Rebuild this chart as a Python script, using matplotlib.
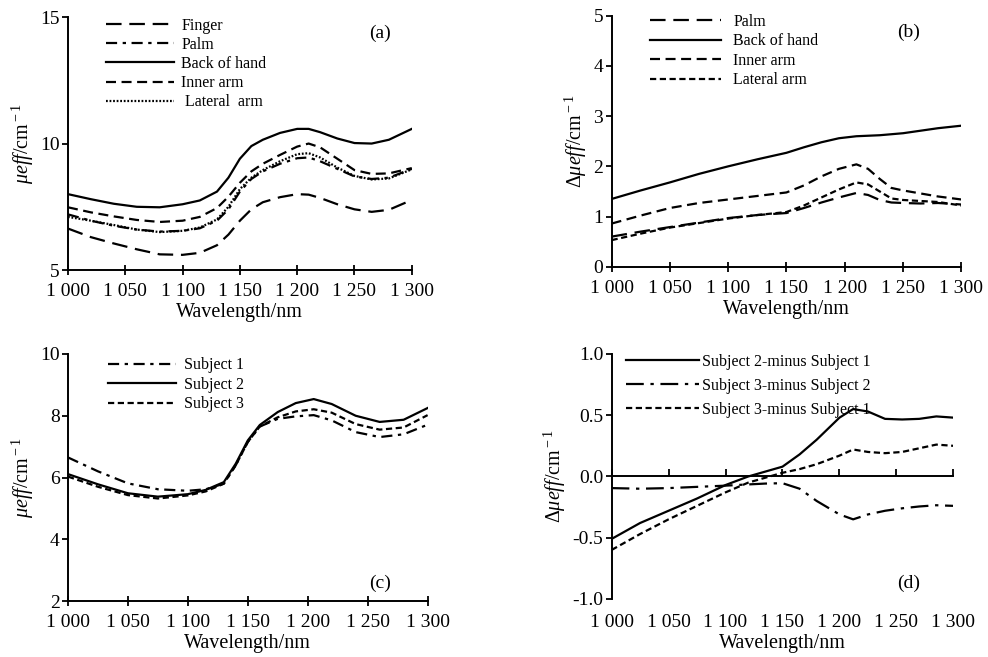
import numpy as np
import matplotlib
matplotlib.use("Agg")
import matplotlib.pyplot as plt

plt.rcParams['font.family'] = ['Liberation Serif', 'DejaVu Serif']
plt.rcParams['mathtext.fontset'] = 'custom'
plt.rcParams['mathtext.rm'] = 'Liberation Serif'
plt.rcParams['mathtext.it'] = 'Liberation Serif:italic'
plt.rcParams['axes.unicode_minus'] = False

# ---- data ----
xticks = [1000, 1050, 1100, 1150, 1200, 1250, 1300]
xtick_labels = ['1 000', '1 050', '1 100', '1 150', '1 200', '1 250', '1 300']

# (a) mu_eff of different skin sites
wl_a = [1000, 1020, 1040, 1060, 1080, 1100, 1115, 1130, 1140, 1150, 1160,
        1170, 1185, 1200, 1210, 1220, 1235, 1250, 1265, 1280, 1300]
finger = [6.64, 6.3, 6.05, 5.82, 5.62, 5.6, 5.68, 5.98, 6.4, 6.95, 7.4,
          7.68, 7.88, 8.0, 7.98, 7.85, 7.6, 7.4, 7.3, 7.38, 7.77]
palm_a = [7.2, 6.95, 6.75, 6.6, 6.52, 6.55, 6.65, 6.95, 7.4, 8.1, 8.6,
          8.9, 9.2, 9.42, 9.45, 9.3, 9.0, 8.7, 8.6, 8.65, 9.0]
back_a = [8.0, 7.8, 7.62, 7.5, 7.48, 7.6, 7.75, 8.1, 8.65, 9.4, 9.9,
          10.15, 10.42, 10.58, 10.58, 10.45, 10.2, 10.02, 10.0, 10.15, 10.58]
inner_a = [7.48, 7.28, 7.12, 6.98, 6.9, 6.95, 7.1, 7.45, 7.9, 8.45, 8.9,
           9.2, 9.55, 9.88, 10.0, 9.85, 9.4, 8.95, 8.8, 8.82, 9.03]
lateral_a = [7.1, 6.95, 6.78, 6.6, 6.5, 6.55, 6.68, 7.0, 7.5, 8.2, 8.65,
             8.95, 9.3, 9.58, 9.62, 9.45, 9.05, 8.72, 8.58, 8.62, 8.98]

# (b) difference to finger
wl_b = [1000, 1025, 1050, 1075, 1100, 1125, 1150, 1165, 1180, 1195, 1210,
        1220, 1230, 1240, 1250, 1265, 1280, 1300]
palm_b = [0.6, 0.7, 0.79, 0.88, 0.97, 1.03, 1.07, 1.17, 1.28, 1.38, 1.47,
          1.43, 1.33, 1.28, 1.27, 1.26, 1.27, 1.24]
back_b = [1.35, 1.52, 1.68, 1.85, 2.0, 2.14, 2.27, 2.38, 2.48, 2.56, 2.6,
          2.61, 2.62, 2.64, 2.66, 2.71, 2.76, 2.81]
inner_b = [0.86, 1.02, 1.17, 1.27, 1.34, 1.41, 1.48, 1.62, 1.8, 1.95, 2.04,
           1.95, 1.75, 1.57, 1.52, 1.46, 1.4, 1.34]
lateral_b = [0.53, 0.66, 0.78, 0.87, 0.96, 1.03, 1.09, 1.22, 1.38, 1.54, 1.68,
             1.64, 1.5, 1.36, 1.33, 1.31, 1.29, 1.22]

# (c) subjects
wl_c = [1000, 1025, 1050, 1075, 1100, 1115, 1130, 1140, 1150, 1160, 1175,
        1190, 1205, 1220, 1240, 1260, 1280, 1300]
subj1 = [6.65, 6.2, 5.81, 5.62, 5.57, 5.62, 5.8, 6.4, 7.15, 7.65, 7.9,
         7.98, 8.02, 7.85, 7.47, 7.31, 7.4, 7.71]
subj2 = [6.11, 5.78, 5.49, 5.38, 5.46, 5.6, 5.85, 6.45, 7.2, 7.7, 8.12,
         8.41, 8.54, 8.38, 8.0, 7.8, 7.87, 8.25]
subj3 = [6.03, 5.7, 5.43, 5.32, 5.42, 5.55, 5.8, 6.4, 7.15, 7.65, 7.95,
         8.14, 8.21, 8.1, 7.73, 7.55, 7.62, 8.02]

# (d) subject differences
wl_d = [1000, 1025, 1050, 1075, 1100, 1120, 1135, 1150, 1165, 1180, 1200,
        1212, 1225, 1240, 1255, 1270, 1285, 1300]
d21 = [-0.51, -0.38, -0.28, -0.18, -0.07, 0.0, 0.04, 0.08, 0.18, 0.3, 0.48,
       0.55, 0.53, 0.47, 0.465, 0.47, 0.49, 0.48]
d32 = [-0.095, -0.1, -0.095, -0.085, -0.075, -0.065, -0.058, -0.055, -0.1, -0.2, -0.31,
       -0.35, -0.31, -0.28, -0.26, -0.245, -0.235, -0.24]
d31 = [-0.6, -0.47, -0.35, -0.24, -0.13, -0.05, -0.01, 0.03, 0.06, 0.1, 0.17,
       0.22, 0.2, 0.19, 0.2, 0.23, 0.26, 0.25]

# ---- styles ----
LW = 1.6
long_dash = (0, (7, 3.5))
dash_dot = (0, (5, 2.5, 1.5, 2.5))
long_dash_dot = (0, (8, 3, 1.5, 3))
med_dash = (0, (4.5, 2.5))
short_dash = (0, (2.8, 1.6))
dotted = (0, (0.8, 0.8))

TICK_FS = 14
LAB_FS = 14.5
LEG_FS = 11.5
PANEL_FS = 14

fig = plt.figure(figsize=(9.88, 6.57), dpi=100)
ax_a = fig.add_axes([0.0688, 0.589, 0.348, 0.385])
ax_b = fig.add_axes([0.619, 0.594, 0.354, 0.382])
ax_c = fig.add_axes([0.0688, 0.0852, 0.364, 0.376])
ax_d = fig.add_axes([0.619, 0.0883, 0.346, 0.373])


def style_axes(ax, ylim, yticks, ylabel):
    ax.set_xlim(1000, 1300)
    ax.set_ylim(*ylim)
    ax.set_xticks(xticks)
    ax.set_xticklabels(xtick_labels)
    ax.set_yticks(yticks)
    ax.spines['top'].set_visible(False)
    ax.spines['right'].set_visible(False)
    for s in ('left', 'bottom'):
        ax.spines[s].set_linewidth(1.4)
    ax.tick_params(axis='x', direction='inout', length=7, width=1.3,
                   labelsize=TICK_FS, pad=6)
    ax.tick_params(axis='y', direction='out', length=4, width=1.3,
                   labelsize=TICK_FS, pad=2)
    ax.set_xlabel('Wavelength/nm', fontsize=LAB_FS, labelpad=2)
    ax.set_ylabel(ylabel, fontsize=LAB_FS, labelpad=3)


mu_label = r'$\mu eff$/cm$^{\rm -1}$'
dmu_label = r'$Δ\mu eff$/cm$^{\rm -1}$'

# (a)
ax_a.plot(wl_a, finger, color='k', lw=LW, ls=long_dash, label='Finger')
ax_a.plot(wl_a, palm_a, color='k', lw=LW, ls=dash_dot, label='Palm')
ax_a.plot(wl_a, back_a, color='k', lw=LW, ls='-', label='Back of hand')
ax_a.plot(wl_a, inner_a, color='k', lw=LW, ls=med_dash, label='Inner arm')
ax_a.plot(wl_a, lateral_a, color='k', lw=LW, ls=dotted, label=' Lateral  arm')
style_axes(ax_a, (5, 15), [5, 10, 15], mu_label)
ax_a.legend(loc='upper left', bbox_to_anchor=(0.07, 1.055), frameon=False,
            fontsize=LEG_FS, handlelength=4.2, handletextpad=0.5, labelspacing=0.2)
ax_a.text(0.907, 0.937, '(a)', transform=ax_a.transAxes, fontsize=PANEL_FS,
          ha='center', va='center')

# (b)
ax_b.plot(wl_b, palm_b, color='k', lw=LW, ls=long_dash, label='Palm')
ax_b.plot(wl_b, back_b, color='k', lw=LW, ls='-', label='Back of hand')
ax_b.plot(wl_b, inner_b, color='k', lw=LW, ls=med_dash, label='Inner arm')
ax_b.plot(wl_b, lateral_b, color='k', lw=LW, ls=short_dash, label='Lateral arm')
style_axes(ax_b, (0, 5), [0, 1, 2, 3, 4, 5], dmu_label)
ax_b.legend(loc='upper left', bbox_to_anchor=(0.07, 1.065), frameon=False,
            fontsize=LEG_FS, handlelength=4.4, handletextpad=0.8, labelspacing=0.22)
ax_b.text(0.848, 0.932, '(b)', transform=ax_b.transAxes, fontsize=PANEL_FS,
          ha='center', va='center')

# (c)
ax_c.plot(wl_c, subj1, color='k', lw=LW, ls=dash_dot, label='Subject 1')
ax_c.plot(wl_c, subj2, color='k', lw=LW, ls='-', label='Subject 2')
ax_c.plot(wl_c, subj3, color='k', lw=LW, ls=short_dash, label='Subject 3')
style_axes(ax_c, (2, 10), [2, 4, 6, 8, 10], mu_label)
ax_c.legend(loc='upper left', bbox_to_anchor=(0.07, 1.045), frameon=False,
            fontsize=LEG_FS, handlelength=4.3, handletextpad=0.5, labelspacing=0.22)
ax_c.text(0.867, 0.073, '(c)', transform=ax_c.transAxes, fontsize=PANEL_FS,
          ha='center', va='center')

# (d)
ax_d.plot(wl_d, d21, color='k', lw=LW, ls='-', label='Subject 2-minus Subject 1')
ax_d.plot(wl_d, d32, color='k', lw=LW, ls=long_dash_dot, label='Subject 3-minus Subject 2')
ax_d.plot(wl_d, d31, color='k', lw=LW, ls=short_dash, label='Subject 3-minus Subject 1')
style_axes(ax_d, (-1.0, 1.0), [-1.0, -0.5, 0.0, 0.5, 1.0], dmu_label)
ax_d.yaxis.set_major_formatter(matplotlib.ticker.FormatStrFormatter('%.1f'))
# x axis line drawn through zero, labels stay at the bottom
ax_d.spines['bottom'].set_visible(False)
ax_d.tick_params(axis='x', length=0, pad=11)
sec = ax_d.secondary_xaxis(0.0, transform=ax_d.transData)
sec.set_xticks(xticks)
sec.set_xticklabels([])
sec.spines['bottom'].set_linewidth(1.4)
sec.tick_params(axis='x', direction='in', length=5, width=1.3)
ax_d.legend(loc='upper left', bbox_to_anchor=(0.0, 1.06), frameon=False,
            fontsize=LEG_FS, handlelength=4.6, handletextpad=0.15, labelspacing=0.5)
ax_d.text(0.868, 0.065, '(d)', transform=ax_d.transAxes, fontsize=PANEL_FS,
          ha='center', va='center')

fig.savefig('out.png', dpi=100)
